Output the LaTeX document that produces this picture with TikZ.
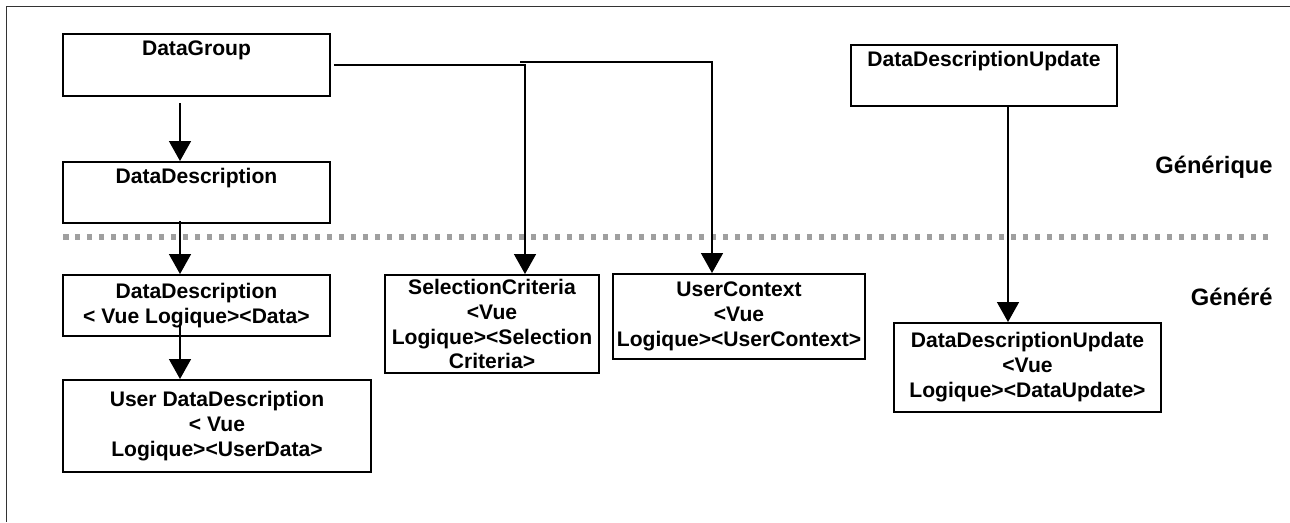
\documentclass[tikz,border=0pt]{standalone}
\usepackage{fontspec}
\setmainfont{Liberation Sans}
\usetikzlibrary{arrows.meta}

\tikzset{
  box/.style={draw, line width=0.04cm, rectangle, inner sep=0pt, align=center,
              font=\fontsize{12}{14.2}\selectfont\bfseries},
  arr/.style={line width=0.03cm, -{Triangle[length=0.4cm,width=0.44cm]}},
  conn/.style={line width=0.03cm},
  layer/.style={anchor=east, inner sep=0pt, font=\fontsize{13.5}{16}\selectfont\bfseries}
}

\begin{document}
\begin{tikzpicture}[x=0.02cm, y=-0.02cm, line join=miter]

                \useasboundingbox (0,0) rectangle (1290,522);

                % cadre
                \draw[line width=0.02cm, gray!40!black] (1290,6) -- (6,6) -- (6,522);

                % separation generique / genere
                \draw[line width=0.12cm, gray!75, dash pattern=on 0.11cm off 0.13cm] (63,237) -- (1273,237);

                \node[layer] (gen1) at (1273,167) {Générique};
                \node[layer] (gen2) at (1273,297) {Généré};

                % boites generiques
                \node[box, minimum width=5.34cm, minimum height=1.24cm,
                      label={[name=dgt, anchor=north, inner sep=0.14cm, font=\fontsize{12}{14.2}\selectfont\bfseries]north:DataGroup}] (dg) at (196.5,65) {};
                \node[box, minimum width=5.34cm, minimum height=1.22cm,
                      label={[name=ddt, anchor=north, inner sep=0.14cm, font=\fontsize{12}{14.2}\selectfont\bfseries]north:DataDescription}] (dd) at (196.5,192.5) {};
                \node[box, minimum width=5.32cm, minimum height=1.22cm,
                      label={[name=dut, anchor=north, inner sep=0.14cm, font=\fontsize{12}{14.2}\selectfont\bfseries]north:DataDescriptionUpdate}] (ddu) at (984,75.5) {};

                % boites generees
                \node[box, minimum width=5.34cm, minimum height=1.22cm] (ddl) at (196.5,305.5) {DataDescription\\< Vue Logique><Data>};
                \node[box, minimum width=6.16cm, minimum height=1.84cm] (udd) at (217,426) {User DataDescription\\< Vue\\Logique><UserData>};
                \node[box, minimum width=4.28cm, minimum height=1.96cm] (sc) at (492,324) {SelectionCriteria\\<Vue\\Logique><Selection\\Criteria>};
                \node[box, minimum width=5.04cm, minimum height=1.70cm] (uc) at (739,316.5) {UserContext\\<Vue\\Logique><UserContext>};
                \node[box, minimum width=5.34cm, minimum height=1.78cm] (ddg) at (1027.5,367.5) {DataDescriptionUpdate\\<Vue\\Logique><DataUpdate>};

                % points de passage
                \coordinate (c1) at (180,0);
                \coordinate (j1) at (525,65);
                \coordinate (j2) at (520,62);
                \coordinate (j3) at (712,62);
                \coordinate (c4) at (1008,0);

                % liens
                \draw[arr] ([yshift=-0.12cm]dg.south -| c1) -- (dd.north -| c1);
                \draw[arr] ([yshift=0.06cm]dd.south -| c1) -- (ddl.north -| c1);
                \draw[arr] ([yshift=0.26cm]ddl.south -| c1) -- (udd.north -| c1);

                \draw[arr] ([xshift=0.06cm]dg.east) -- (j1) -- (j1 |- sc.north);
                \draw[arr] (j2) -- (j3) -- (j3 |- uc.north);
                \draw[arr] (ddu.south -| c4) -- (ddg.north -| c4);

\end{tikzpicture}
\end{document}
